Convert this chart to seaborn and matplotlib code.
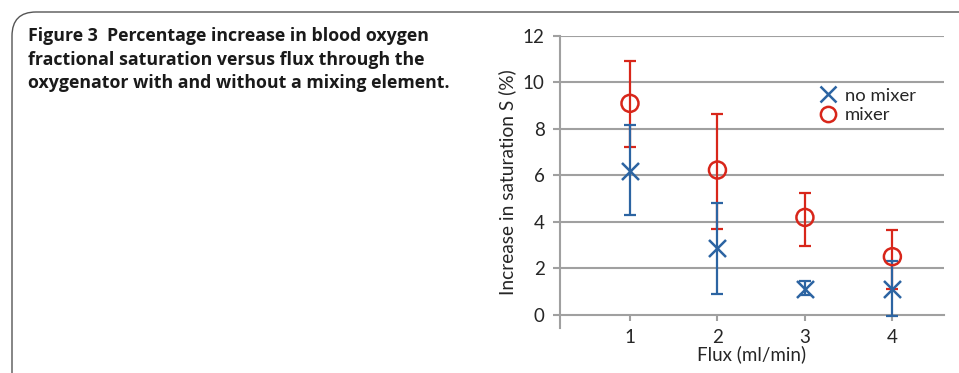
import numpy as np
import pandas as pd
import seaborn as sns
import matplotlib.pyplot as plt
from matplotlib.lines import Line2D
from matplotlib.patches import FancyBboxPatch

# data
flux = [1, 2, 3, 4]
no_mixer = [6.20, 2.87, 1.13, 1.09]
no_mixer_hi = [8.17, 4.82, 1.45, 2.33]
no_mixer_lo = [4.29, 0.90, 0.85, -0.07]
mixer = [9.10, 6.23, 4.19, 2.50]
mixer_hi = [10.91, 8.66, 5.24, 3.63]
mixer_lo = [7.22, 3.69, 2.96, 1.12]

blue = '#2c64a2'
red = '#d8261a'
grid = '#a0a0a0'

sns.set_style('white')
plt.rcParams['font.family'] = ['Lato', 'DejaVu Sans']

fig = plt.figure(figsize=(9.59, 3.73), dpi=100)

# panel frame with rounded top-left corner
frame = FancyBboxPatch((12 / 959, -0.2), 1.2, 1.2 - 12 / 373,
                       boxstyle='round,pad=0,rounding_size=0.025',
                       transform=fig.transFigure, fill=False,
                       edgecolor='#555555', linewidth=1.0, mutation_aspect=959 / 373)
fig.patches.append(frame)

fig.text(28 / 959, 1 - 27 / 373,
         'Figure 3  Percentage increase in blood oxygen\n'
         'fractional saturation versus flux through the\n'
         'oxygenator with and without a mixing element.',
         ha='left', va='top', fontsize=12.8, fontweight='bold',
         linespacing=1.4, color='#1a1a1a', family=['Open Sans', 'DejaVu Sans'])

ax = fig.add_axes([560 / 959, 1 - 328 / 373, (944 - 560) / 959, (328 - 36) / 373])

df = pd.DataFrame({'flux': flux * 2,
                   'S': no_mixer + mixer,
                   'group': ['no mixer'] * 4 + ['mixer'] * 4})

# error bars
ax.errorbar(flux, mixer,
            yerr=[np.subtract(mixer, mixer_lo), np.subtract(mixer_hi, mixer)],
            fmt='none', ecolor=red, elinewidth=1.6, capsize=4.5, capthick=1.6, zorder=3)
ax.errorbar(flux, no_mixer,
            yerr=[np.subtract(no_mixer, no_mixer_lo), np.subtract(no_mixer_hi, no_mixer)],
            fmt='none', ecolor=blue, elinewidth=1.6, capsize=4.5, capthick=1.6, zorder=4)

sub = df[df.group == 'mixer']
sns.scatterplot(data=sub, x='flux', y='S', ax=ax, marker='o', s=150,
                facecolors='none', edgecolor=red, linewidth=1.8, zorder=5, legend=False)
sub = df[df.group == 'no mixer']
sns.scatterplot(data=sub, x='flux', y='S', ax=ax, marker='x', s=150,
                color=blue, linewidth=1.8, zorder=6, legend=False)

ax.set_xlim(0.2, 4.59)
ax.set_ylim(-0.57, 12)
ax.set_xticks(flux)
ax.set_yticks(range(0, 13, 2))
for v in range(2, 13, 2):
    ax.axhline(v, color=grid, lw=1.5, zorder=1)

for s in ['top', 'right']:
    ax.spines[s].set_visible(False)
ax.spines['bottom'].set_position(('data', 0))
ax.spines['bottom'].set_color(grid)
ax.spines['bottom'].set_linewidth(1.5)
ax.spines['left'].set_color(grid)
ax.spines['left'].set_linewidth(1.5)
ax.tick_params(axis='x', length=4, width=1.5, color=grid, pad=6, labelsize=13.5,
               direction='out', bottom=True)
ax.tick_params(axis='y', length=5, width=1.5, color=grid, pad=6, labelsize=13.5,
               direction='out', left=True)

ax.set_xlabel('Flux (ml/min)', fontsize=13.5, labelpad=0)
ax.set_ylabel('Increase in saturation S (%)', fontsize=13.8, labelpad=5)

handles = [Line2D([], [], ls='none', marker='x', color=blue, ms=11, mew=1.8),
           Line2D([], [], ls='none', marker='o', mfc='none', mec=red, ms=11, mew=1.8)]
ax.legend(handles, ['no mixer', 'mixer'], loc='upper left',
          bbox_to_anchor=(0.655, 0.855), frameon=False, fontsize=13.3,
          handlelength=0.8, handletextpad=0.5, labelspacing=0.2, borderpad=0)

fig.savefig('out.png', dpi=100)
